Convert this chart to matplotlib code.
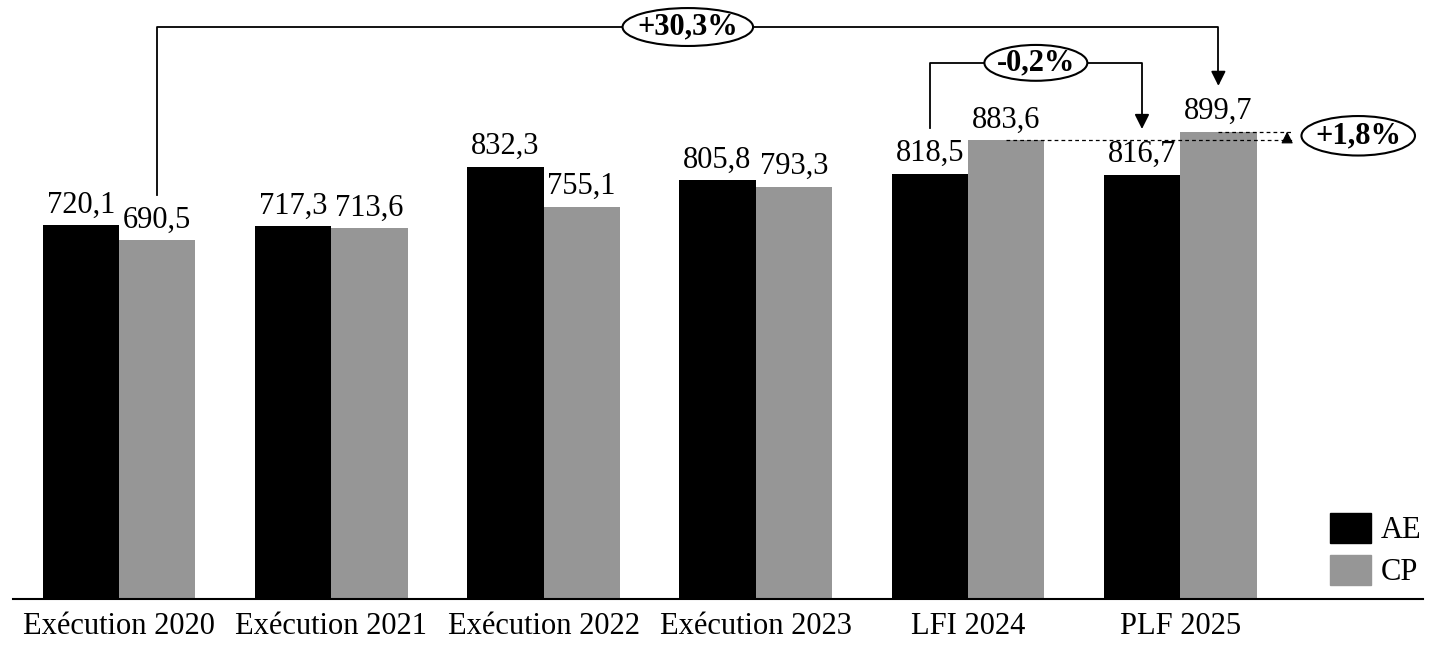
import matplotlib
matplotlib.use("Agg")
import matplotlib.pyplot as plt
import numpy as np
from matplotlib.patches import Ellipse, Patch

plt.rcParams['font.family'] = ['Liberation Serif', 'DejaVu Serif']

# Données
categories = ["Exécution 2020", "Exécution 2021", "Exécution 2022",
              "Exécution 2023", "LFI 2024", "PLF 2025"]
ae = [720.1, 717.3, 832.3, 805.8, 818.5, 816.7]
cp = [690.5, 713.6, 755.1, 793.3, 883.6, 899.7]
evol_labels = ["+30,3%", "-0,2%", "+1,8%"]

def fr(v):
    return f"{v:.1f}".replace(".", ",")

fig = plt.figure(figsize=(14.39, 6.63), dpi=100)
ax = fig.add_axes([0.009, 0.0965, 0.98, 0.9035])

x = np.arange(len(categories))
w = 0.36
ax.bar(x - w / 2, ae, w, color="black", label="AE")
ax.bar(x + w / 2, cp, w, color="#969696", label="CP")

fs = 22
for xi, v in zip(x - w / 2, ae):
    ax.annotate(fr(v), (xi, v), xytext=(0, 4), textcoords="offset points",
                ha="center", va="bottom", fontsize=fs)
for xi, v in zip(x + w / 2, cp):
    ax.annotate(fr(v), (xi, v), xytext=(0, 4), textcoords="offset points",
                ha="center", va="bottom", fontsize=fs)

ax.set_xlim(-0.5, 6.145)
ax.set_ylim(0, 1153)
ax.set_xticks(x)
ax.set_xticklabels(categories, fontsize=fs)
ax.tick_params(axis="x", length=0, pad=9)
ax.set_yticks([])
for s in ["top", "left", "right"]:
    ax.spines[s].set_visible(False)
ax.spines["bottom"].set_linewidth(1.5)

lw = 1.3
gap = 88
def bracket(x0, y0, x1, y1, ytop, label, ew, eh):
    ax.plot([x0, x0, x1, x1], [y0, ytop, ytop, y1 + 18], color="black", lw=lw,
            clip_on=False, zorder=3)
    ax.annotate("", xy=(x1, y1), xytext=(x1, y1 + 20),
                arrowprops=dict(arrowstyle="-|>", color="black", lw=lw,
                                mutation_scale=22, shrinkA=0, shrinkB=0))
    xm = (x0 + x1) / 2
    ax.add_patch(Ellipse((xm, ytop), ew, eh, facecolor="white",
                         edgecolor="black", lw=1.5, zorder=4, clip_on=False))
    ax.text(xm, ytop, label, ha="center", va="center", fontsize=fs,
            fontweight="bold", zorder=5)

# +30,3% : CP 2020 -> CP 2025
bracket(x[0] + w / 2, cp[0] + gap, x[5] + w / 2, cp[5] + gap, 1101,
        evol_labels[0], 0.615, 73)
# -0,2% : AE 2024 -> AE 2025
bracket(x[4] - w / 2, ae[4] + gap, x[5] - w / 2, ae[5] + gap, 1032,
        evol_labels[1], 0.485, 69)

# +1,8% : CP 2024 -> CP 2025
xe = 5.533
ax.plot([x[4] + w / 2, xe], [cp[4], cp[4]], ls=(0, (3, 2.5)), color="black",
        lw=0.9, zorder=3)
ax.plot([x[5] + w / 2, xe], [cp[5], cp[5]], ls=(0, (3, 2.5)), color="black",
        lw=0.9, zorder=3)
ax.annotate("", xy=(5.504, cp[5]), xytext=(5.504, cp[4]),
            arrowprops=dict(arrowstyle="-|>", color="black", lw=0.8,
                            mutation_scale=18, shrinkA=0, shrinkB=0))
ym = (cp[4] + cp[5]) / 2
ax.add_patch(Ellipse((5.839, ym), 0.535, 76, facecolor="white",
                     edgecolor="black", lw=1.5, zorder=4, clip_on=False))
ax.text(5.839, ym, evol_labels[2], ha="center", va="center", fontsize=fs,
        fontweight="bold", zorder=5)

ax.legend(handles=[Patch(color="black", label="AE"),
                   Patch(color="#969696", label="CP")],
          loc="lower right", bbox_to_anchor=(1.018, -0.026), frameon=False,
          fontsize=fs, handlelength=1.35, handleheight=1.15, labelspacing=0.3,
          handletextpad=0.3)

fig.savefig("out.png", dpi=100)
